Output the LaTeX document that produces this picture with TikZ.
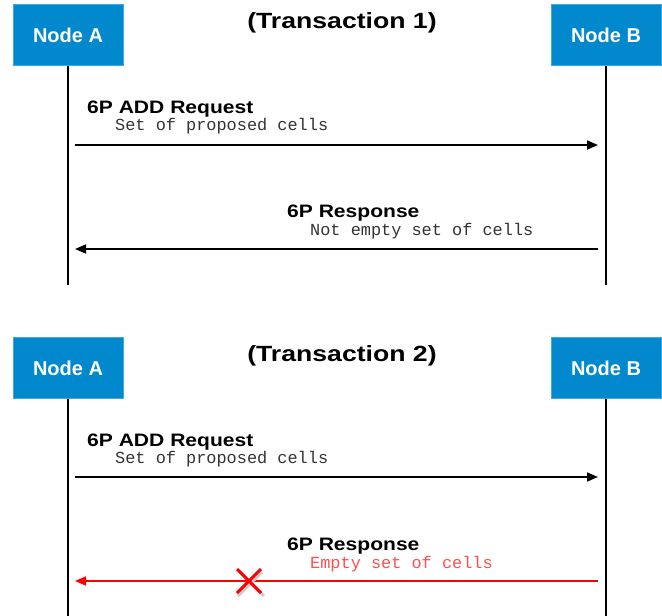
\documentclass[tikz,border=0pt]{standalone}
\usepackage{fontspec}
\setmainfont{Liberation Sans}
\newfontfamily\monofont{Liberation Mono}
\newfontfamily\widefont[FakeStretch=1.17]{Liberation Sans}
\newfontfamily\titlefont[FakeStretch=1.21]{Liberation Sans}
\usetikzlibrary{arrows.meta}
\definecolor{boxblue}{RGB}{2,136,204}
\definecolor{boxedge}{RGB}{60,170,230}
\definecolor{msgred}{RGB}{255,0,0}
\definecolor{txtred}{RGB}{255,80,80}
\tikzset{
  actor/.style={draw=boxedge, line width=1pt, fill=boxblue, text=white, font=\fontsize{20}{22}\selectfont\bfseries, minimum width=110pt, minimum height=61pt, inner sep=0pt},
  life/.style={line width=2.5pt, black},
  msg/.style={line width=1.6pt, -{Triangle[length=11pt,width=9pt]}},
  title/.style={font=\titlefont\fontsize{22}{24}\selectfont\bfseries, anchor=base, inner sep=0pt},
  mlabel/.style={font=\widefont\fontsize{18}{20}\selectfont\bfseries, anchor=base west, inner sep=0pt},
  msub/.style={font=\monofont\fontsize{16.9}{18}\selectfont, anchor=base west, inner sep=0pt, text=black!80},
}
\begin{document}
\begin{tikzpicture}[x=1pt,y=-1pt]
\useasboundingbox (0,0) rectangle (662,616);
% Transaction 1
\node[actor] (a1) at (68,35) {Node A};
\node[actor] (b1) at (606,35) {Node B};
\node[title] (t1) at (342,28) {(Transaction 1)};
\coordinate (a1e) at (68,285);
\coordinate (b1e) at (606,285);
\draw[life] (a1.south) -- (a1e);
\draw[life] (b1.south) -- (b1e);
\coordinate (m1s) at (75,145);
\coordinate (m1e) at (598,145);
\draw[msg] (m1s) -- (m1e);
\node[mlabel] (l1) at (87,113) {6P ADD Request};
\node[msub] (s1) at (115,130) {Set of proposed cells};
\coordinate (m2s) at (598,249);
\coordinate (m2e) at (75,249);
\draw[msg] (m2s) -- (m2e);
\node[mlabel] (l2) at (287,217) {6P Response};
\node[msub] (s2) at (310,235) {Not empty set of cells};
% Transaction 2
\node[actor] (a2) at (68,368) {Node A};
\node[actor] (b2) at (606,368) {Node B};
\node[title] (t2) at (342,361) {(Transaction 2)};
\coordinate (a2e) at (68,618);
\coordinate (b2e) at (606,618);
\draw[life] (a2.south) -- (a2e);
\draw[life] (b2.south) -- (b2e);
\coordinate (m3s) at (75,477);
\coordinate (m3e) at (598,477);
\draw[msg] (m3s) -- (m3e);
\node[mlabel] (l3) at (87,446) {6P ADD Request};
\node[msub] (s3) at (115,463) {Set of proposed cells};
\coordinate (m4s) at (598,581);
\coordinate (m4e) at (75,581);
\draw[msg, draw=msgred, fill=msgred] (m4s) -- (m4e);
\node[mlabel] (l4) at (287,550) {6P Response};
\node[msub, text=txtred] (s4) at (310,568) {Empty set of cells};
% cross
\coordinate (x) at (249,581);
\draw[line width=3pt, black!20] ([shift={(-11,-11)}]x) ++(2,2) -- ++(24,24);
\draw[line width=3pt, black!20] ([shift={(11,-11)}]x) ++(2,2) -- ++(-24,24);
\draw[line width=3pt, msgred] ([shift={(-12,-12)}]x) -- ([shift={(12,12)}]x);
\draw[line width=3pt, msgred] ([shift={(12,-12)}]x) -- ([shift={(-12,12)}]x);
\end{tikzpicture}
\end{document}
